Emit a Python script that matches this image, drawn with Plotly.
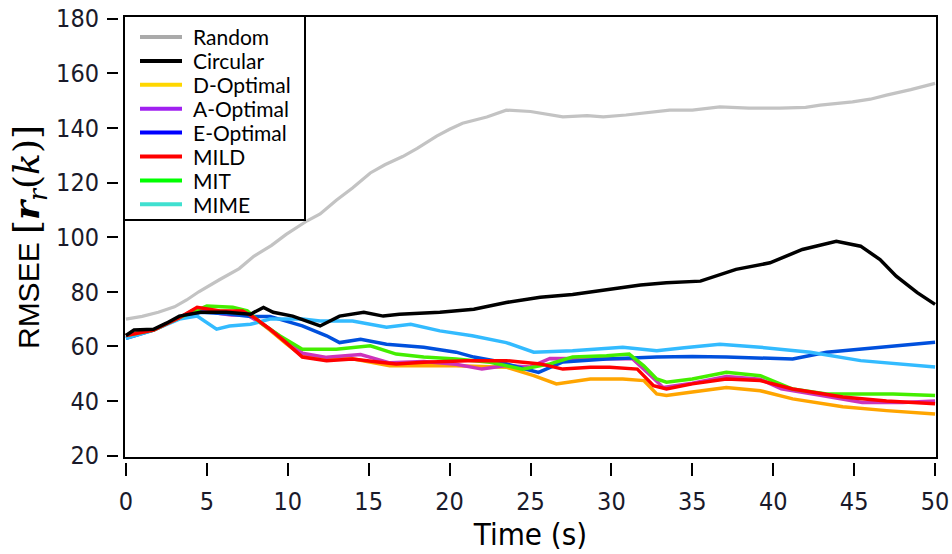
import plotly.graph_objects as go

# ---------------- data ----------------
series_names = ["Random", "Circular", "D-Optimal", "A-Optimal", "E-Optimal", "MILD", "MIT", "MIME"]

random_t = [0, 1, 2, 3, 3.75, 4.5, 5.8, 7, 7.9, 9, 9.9, 11.2, 12, 13, 14, 15.1, 16, 17.1, 18, 19.2, 20,
            20.8, 22.3, 23.5, 25, 26, 27, 28.5, 29.5, 30.9, 32, 33.6, 35, 36.7, 38.5, 40.4, 42, 42.9,
            44.9, 46, 47, 48.5, 50]
random_v = [70, 71, 72.5, 74.5, 77, 80, 84.5, 88.5, 93, 97, 101, 106, 108.5, 113.5, 118, 123.5, 126.5,
            129.5, 132.5, 137, 139.5, 141.7, 144, 146.5, 146, 145, 144, 144.5, 144, 144.7, 145.5, 146.5,
            146.5, 147.7, 147.2, 147.2, 147.5, 148.3, 149.5, 150.5, 152, 154, 156.3]

circular_t = [0, 0.5, 1.7, 2.5, 3.3, 4.6, 6.2, 7.7, 8.5, 9.1, 10.3, 11.6, 12, 13.2, 14.7, 15.9, 16.9,
              19.4, 21.5, 23.5, 25.6, 27.6, 29.7, 31.8, 33.4, 35.5, 37.7, 39.8, 41.8, 43.9, 45.4, 46.6,
              47.6, 48.9, 50]
circular_v = [64, 66, 66.3, 68.5, 71.1, 72.5, 72.5, 71.8, 74.3, 72.5, 71.1, 68.1, 67.5, 71.1, 72.5, 71.1,
              71.8, 72.5, 73.6, 76.1, 78, 79, 80.9, 82.5, 83.3, 83.9, 88.2, 90.6, 95.5, 98.5, 96.7, 91.8,
              85.7, 79.7, 75.4]

dopt_t = [0, 1.7, 3.3, 4.4, 5.8, 7.2, 7.9, 8.9, 9.9, 10.9, 12.4, 14, 16.3, 18.4, 20.4, 23.5, 25.2, 26.6,
          28.7, 30.7, 32, 32.8, 33.4, 35, 37.1, 39.2, 41.2, 44.3, 47, 50]
dopt_v = [64, 66, 70.5, 74, 73, 72.5, 70.5, 66, 61, 56.5, 55.8, 55.5, 52.9, 53, 52.9, 52.4, 49.3, 46.3,
          48.1, 48.1, 47.5, 42.6, 42, 43.3, 45, 43.8, 40.8, 37.9, 36.5, 35.3]

aopt_t = [0, 1.7, 3.3, 4.4, 5.8, 6.5, 7.5, 8.5, 9.9, 10.9, 12.4, 14.5, 16.3, 18.4, 20.4, 22, 23.5, 25,
          26.2, 28, 30, 31.3, 32.3, 33.2, 35, 37.1, 39.2, 40.5, 43, 45.5, 48, 50]
aopt_v = [64, 66, 70.5, 74, 72, 71.5, 71.5, 68, 62, 57.5, 56, 57, 54, 54.5, 53.5, 51.7, 53, 52.5, 55.6,
          55.5, 55.5, 55.5, 50, 45, 46.5, 49, 48, 44.5, 42, 39.5, 39.5, 40]

eopt_t = [0, 1.7, 3.3, 4.6, 6.2, 7.7, 8.9, 10.9, 12.4, 13.2, 14.5, 16.1, 18.4, 20.4, 21.5, 23, 24.5, 25.5,
          27, 29.7, 32.8, 35, 37.1, 39, 41.2, 43.3, 46.4, 48, 50]
eopt_v = [63, 66, 70.5, 72.5, 72, 71, 71, 67.5, 63.9, 61.4, 62.6, 60.8, 59.7, 57.9, 56.1, 54.5, 52, 50.5,
          54.3, 55.4, 56.1, 56.3, 56.1, 55.8, 55.4, 57.9, 59.7, 60.5, 61.5]

mild_t = [0, 1.7, 3.3, 4.4, 5.8, 7.2, 7.9, 8.9, 9.9, 10.9, 12.4, 14, 15.7, 16.7, 18.4, 21.1, 23.5, 25.6,
          27, 28.7, 29.9, 31.6, 32.6, 33.4, 35, 37.1, 39.2, 41.2, 44.3, 47, 50]
mild_v = [64, 66, 70.5, 74.3, 73, 73, 70.7, 66.3, 61.4, 56.1, 54.8, 55.4, 54.2, 53.6, 54.2, 54.8, 54.8,
          53.6, 51.7, 52.4, 52.4, 51.7, 45.6, 44.4, 46.3, 48.1, 47.5, 44.4, 41.5, 40, 39]

mit_t = [0, 1.7, 3.3, 5, 6.6, 7.5, 8.3, 9.5, 10.9, 13, 15.1, 16.7, 18.4, 20.4, 22.5, 24.5, 26.2, 27.6,
         29.7, 31.1, 32, 32.8, 33.4, 35, 37.1, 39.2, 41.2, 43.3, 47.4, 50]
mit_v = [64, 66, 70.5, 74.8, 74.3, 73, 68.8, 63.9, 59, 59, 60.2, 57.2, 56.1, 55.4, 54.2, 51.7, 53.6, 56.1,
         56.6, 57.2, 52.9, 48.1, 46.9, 48.1, 50.5, 49.3, 44.4, 42.6, 42.6, 42]

mime_t = [0, 1.7, 3.3, 4.4, 5.6, 6.4, 7.7, 8.9, 10.9, 12, 14, 16.1, 17.6, 19.4, 21.4, 23.5, 25.2, 27.6,
          30.7, 32.8, 34.5, 36.7, 39.2, 42.3, 45.4, 48, 50]
mime_v = [63, 66, 70, 71.1, 66.3, 67.5, 68.1, 70, 70, 69.3, 69.3, 67, 68.1, 65.7, 63.9, 61.4, 57.9, 58.4,
          59.7, 58.4, 59.5, 60.8, 59.7, 57.9, 54.8, 53.5, 52.5]

x_ticks = [0, 5, 10, 15, 20, 25, 30, 35, 40, 45, 50]
y_ticks = [20, 40, 60, 80, 100, 120, 140, 160, 180]

# ---------------- styling ----------------
data_map = {
    "Random": (random_t, random_v),
    "Circular": (circular_t, circular_v),
    "D-Optimal": (dopt_t, dopt_v),
    "A-Optimal": (aopt_t, aopt_v),
    "E-Optimal": (eopt_t, eopt_v),
    "MILD": (mild_t, mild_v),
    "MIT": (mit_t, mit_v),
    "MIME": (mime_t, mime_v),
}
line_colors = {
    "Random": "#c3c3c3", "Circular": "#000000", "D-Optimal": "#ffa500", "A-Optimal": "#cc33bb",
    "E-Optimal": "#0050dd", "MILD": "#ff0000", "MIT": "#44ee00", "MIME": "#33bbff",
}
legend_colors = {
    "Random": "#aaaaaa", "Circular": "#000000", "D-Optimal": "#ffd700", "A-Optimal": "#a020f0",
    "E-Optimal": "#0000ff", "MILD": "#ff0000", "MIT": "#00ff00", "MIME": "#40e0d0",
}
draw_order = ["Random", "D-Optimal", "A-Optimal", "E-Optimal", "MIME", "MIT", "MILD", "Circular"]

fig = go.Figure()
for name in draw_order:
    t, v = data_map[name]
    fig.add_trace(go.Scatter(x=t, y=v, mode="lines", name=name, showlegend=False,
                             line=dict(color=line_colors[name], width=3.5 if name != "Random" else 3.2)))

W, H = 952, 554
ml, mr, mt, mb = 107, 15, 16, 79
pw, ph = W - ml - mr, H - mt - mb
x_dom0 = (124 - ml) / pw
y_dom0 = (475 - 458) / ph
yaxis_pos = (118 - ml) / pw
xaxis_pos = (475 - 462) / ph


def px_x(px):
    return (px - ml) / pw


def px_y(py):
    return (H - mb - py) / ph


tick_font = dict(family="DejaVu Sans Condensed", size=25, color="#1a1a2a")

# manual legend (box, sample lines, labels)
shapes = [dict(type="rect", xref="x domain", yref="y domain", x0=0, x1=1, y0=0, y1=1,
               line=dict(color="black", width=2), layer="above")]
annotations = []
shapes.append(dict(type="rect", xref="paper", yref="paper", x0=px_x(124), x1=px_x(305),
                   y0=px_y(220), y1=px_y(16), line=dict(color="black", width=2),
                   fillcolor="white", layer="above"))
leg_y0, leg_dy = 37, 23.9
for i, name in enumerate(series_names):
    yy = px_y(leg_y0 + i * leg_dy)
    shapes.append(dict(type="line", xref="paper", yref="paper", x0=px_x(140), x1=px_x(182),
                       y0=yy, y1=yy, line=dict(color=legend_colors[name], width=4), layer="above"))
    annotations.append(dict(xref="paper", yref="paper", x=px_x(191), y=yy, text=name,
                            showarrow=False, xanchor="left", yanchor="middle",
                            font=dict(family="Lato", size=21, color="black")))

fig.update_layout(
    width=W, height=H,
    margin=dict(l=ml, r=mr, t=mt, b=mb, pad=0, autoexpand=False),
    paper_bgcolor="white", plot_bgcolor="white",
    showlegend=False,
    xaxis=dict(domain=[x_dom0, 1], range=[-0.12, 50.12], tickvals=x_ticks, ticks="outside",
               ticklen=13, tickwidth=2, tickcolor="black", showgrid=False, zeroline=False,
               showline=False, anchor="free", position=xaxis_pos, tickfont=tick_font,
               ticklabelstandoff=4, automargin=False,
               title=dict(text="Time (s)", font=dict(family="DejaVu Sans Condensed", size=31,
                                                    color="black"), standoff=6)),
    yaxis=dict(domain=[y_dom0, 1], range=[19.16, 180.95], tickvals=y_ticks, ticks="outside",
               ticklen=11, tickwidth=2, tickcolor="black", showgrid=False, zeroline=False,
               showline=False, anchor="free", position=yaxis_pos, tickfont=tick_font,
               ticklabelstandoff=3, automargin=False,
               title=dict(text="RMSEE <span style='font-family:DejaVu Serif;font-size:36px'>[<b><i>r</i></b>"
                               "<sub><i>r</i></sub>(<i>k</i>)]</span>",
                          font=dict(family="Liberation Sans", size=30, color="black"), standoff=6)),
    shapes=shapes,
    annotations=annotations,
)

fig.write_html("out.html")
